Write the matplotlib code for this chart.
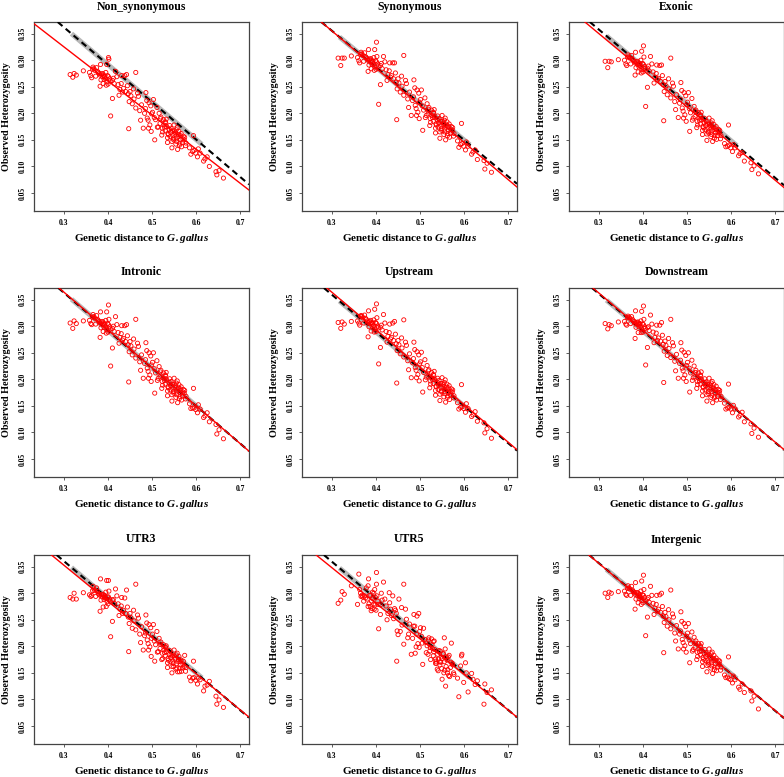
import matplotlib
matplotlib.use("Agg")
import matplotlib.pyplot as plt
import numpy as np

plt.rcParams['font.family'] = ['Liberation Serif', 'DejaVu Serif']
plt.rcParams['mathtext.fontset'] = 'custom'
plt.rcParams['mathtext.bfit'] = 'Liberation Serif:italic:bold'
plt.rcParams['mathtext.it'] = 'Liberation Serif:italic:bold'
plt.rcParams['mathtext.rm'] = 'Liberation Serif:bold'

titles = ["Non_synonymous", "Synonymous", "Exonic",
          "Intronic", "Upstream", "Downstream",
          "UTR3", "UTR5", "Intergenic"]

# genetic distance to G.gallus (shared by all panels)
dist = [0.314, 0.320, 0.323, 0.328, 0.344, 0.358, 0.361, 0.363, 0.366, 0.368,
        0.370, 0.374, 0.376, 0.380, 0.382, 0.382, 0.383, 0.385, 0.387, 0.389,
        0.390, 0.391, 0.393, 0.395, 0.395, 0.397, 0.398, 0.400, 0.401, 0.401,
        0.402, 0.404, 0.406, 0.410, 0.410, 0.414, 0.417, 0.420, 0.423, 0.427,
        0.430, 0.431, 0.435, 0.438, 0.440, 0.442, 0.444, 0.447, 0.448, 0.450,
        0.452, 0.458, 0.459, 0.463, 0.463, 0.467, 0.469, 0.474, 0.476, 0.480,
        0.483, 0.486, 0.488, 0.489, 0.492, 0.493, 0.495, 0.497, 0.498, 0.501,
        0.503, 0.506, 0.508, 0.511, 0.512, 0.516, 0.518, 0.520, 0.522, 0.523,
        0.526, 0.527, 0.530, 0.530, 0.531, 0.533, 0.535, 0.535, 0.536, 0.539,
        0.540, 0.541, 0.542, 0.545, 0.545, 0.546, 0.548, 0.550, 0.550, 0.552,
        0.554, 0.555, 0.555, 0.558, 0.559, 0.560, 0.561, 0.563, 0.565, 0.567,
        0.570, 0.571, 0.574, 0.577, 0.588, 0.592, 0.594, 0.595, 0.599, 0.603,
        0.609, 0.617, 0.620, 0.630, 0.645, 0.647, 0.652, 0.662,
        0.365, 0.372, 0.378, 0.384, 0.388, 0.392, 0.396, 0.399, 0.405, 0.412,
        0.425, 0.433, 0.446, 0.455, 0.472, 0.485, 0.491, 0.499, 0.505, 0.514,
        0.519, 0.524, 0.528, 0.532, 0.537, 0.543, 0.547, 0.549, 0.553, 0.556,
        0.557, 0.562, 0.564, 0.566, 0.569, 0.573, 0.576, 0.585, 0.605, 0.625]

het_non_synonymous = [
    0.273, 0.268, 0.275, 0.272, 0.280, 0.277, 0.271, 0.267, 0.287, 0.284,
    0.281, 0.286, 0.279, 0.275, 0.272, 0.251, 0.292, 0.274, 0.269, 0.256,
    0.272, 0.264, 0.270, 0.265, 0.277, 0.292, 0.259, 0.255, 0.305, 0.269,
    0.302, 0.265, 0.195, 0.228, 0.262, 0.256, 0.279, 0.269, 0.254, 0.245,
    0.256, 0.271, 0.247, 0.271, 0.241, 0.273, 0.252, 0.171, 0.222, 0.241,
    0.233, 0.246, 0.227, 0.277, 0.210, 0.238, 0.232, 0.187, 0.216, 0.172,
    0.200, 0.239, 0.224, 0.191, 0.172, 0.220, 0.178, 0.214, 0.166, 0.202,
    0.226, 0.150, 0.188, 0.211, 0.174, 0.200, 0.181, 0.193, 0.159, 0.172,
    0.188, 0.178, 0.167, 0.184, 0.182, 0.175, 0.145, 0.154, 0.162, 0.170,
    0.177, 0.156, 0.164, 0.135, 0.147, 0.167, 0.153, 0.178, 0.167, 0.161,
    0.142, 0.169, 0.152, 0.132, 0.156, 0.160, 0.166, 0.144, 0.150, 0.137,
    0.152, 0.157, 0.155, 0.144, 0.123, 0.128, 0.158, 0.130, 0.125, 0.118,
    0.125, 0.110, 0.114, 0.100, 0.090, 0.084, 0.092, 0.078,
    0.283, 0.270, 0.277, 0.263, 0.275, 0.268, 0.253, 0.271, 0.261, 0.266,
    0.234, 0.240, 0.237, 0.218, 0.205, 0.209, 0.187, 0.199, 0.192, 0.174,
    0.190, 0.165, 0.174, 0.189, 0.160, 0.172, 0.158, 0.150, 0.164, 0.147,
    0.173, 0.140, 0.158, 0.162, 0.145, 0.150, 0.139, 0.135, 0.133, 0.118]

het_synonymous = [
    0.304, 0.290, 0.304, 0.304, 0.308, 0.305, 0.299, 0.295, 0.315, 0.312,
    0.309, 0.314, 0.307, 0.303, 0.300, 0.279, 0.320, 0.302, 0.297, 0.284,
    0.300, 0.292, 0.298, 0.293, 0.305, 0.320, 0.287, 0.283, 0.334, 0.297,
    0.307, 0.293, 0.217, 0.254, 0.290, 0.284, 0.307, 0.297, 0.282, 0.273,
    0.280, 0.295, 0.271, 0.295, 0.265, 0.295, 0.276, 0.188, 0.246, 0.265,
    0.257, 0.270, 0.251, 0.309, 0.234, 0.262, 0.256, 0.211, 0.240, 0.196,
    0.224, 0.263, 0.248, 0.215, 0.196, 0.244, 0.202, 0.238, 0.190, 0.226,
    0.244, 0.168, 0.206, 0.229, 0.192, 0.218, 0.199, 0.211, 0.177, 0.190,
    0.206, 0.196, 0.185, 0.202, 0.200, 0.193, 0.163, 0.172, 0.180, 0.188,
    0.195, 0.174, 0.182, 0.153, 0.165, 0.185, 0.171, 0.196, 0.185, 0.179,
    0.160, 0.187, 0.170, 0.150, 0.174, 0.178, 0.184, 0.162, 0.168, 0.155,
    0.170, 0.175, 0.173, 0.162, 0.136, 0.141, 0.181, 0.143, 0.138, 0.131,
    0.138, 0.123, 0.127, 0.113, 0.111, 0.095, 0.106, 0.089,
    0.311, 0.298, 0.305, 0.291, 0.303, 0.296, 0.281, 0.299, 0.289, 0.294,
    0.262, 0.268, 0.259, 0.240, 0.227, 0.231, 0.209, 0.221, 0.214, 0.196,
    0.208, 0.183, 0.192, 0.207, 0.178, 0.190, 0.176, 0.168, 0.182, 0.165,
    0.191, 0.158, 0.176, 0.180, 0.163, 0.168, 0.157, 0.148, 0.146, 0.131]

het_exonic = [
    0.298, 0.286, 0.298, 0.297, 0.301, 0.300, 0.293, 0.290, 0.310, 0.306,
    0.304, 0.309, 0.302, 0.298, 0.295, 0.272, 0.315, 0.297, 0.292, 0.278,
    0.295, 0.287, 0.293, 0.288, 0.300, 0.317, 0.282, 0.278, 0.327, 0.292,
    0.306, 0.288, 0.213, 0.249, 0.285, 0.280, 0.307, 0.293, 0.278, 0.268,
    0.275, 0.291, 0.266, 0.290, 0.260, 0.291, 0.271, 0.186, 0.241, 0.260,
    0.252, 0.265, 0.246, 0.304, 0.229, 0.257, 0.251, 0.207, 0.235, 0.192,
    0.219, 0.258, 0.243, 0.210, 0.191, 0.239, 0.197, 0.233, 0.185, 0.221,
    0.239, 0.166, 0.201, 0.228, 0.187, 0.213, 0.194, 0.206, 0.173, 0.185,
    0.201, 0.191, 0.180, 0.197, 0.195, 0.188, 0.160, 0.168, 0.175, 0.183,
    0.190, 0.169, 0.177, 0.149, 0.161, 0.180, 0.166, 0.191, 0.180, 0.174,
    0.156, 0.182, 0.165, 0.147, 0.169, 0.173, 0.179, 0.158, 0.163, 0.151,
    0.165, 0.170, 0.168, 0.158, 0.137, 0.138, 0.178, 0.140, 0.135, 0.128,
    0.135, 0.120, 0.124, 0.110, 0.107, 0.094, 0.101, 0.086,
    0.306, 0.293, 0.300, 0.286, 0.298, 0.291, 0.276, 0.294, 0.284, 0.289,
    0.257, 0.263, 0.254, 0.235, 0.222, 0.226, 0.204, 0.216, 0.209, 0.191,
    0.203, 0.178, 0.187, 0.202, 0.173, 0.185, 0.171, 0.163, 0.177, 0.160,
    0.186, 0.153, 0.171, 0.175, 0.158, 0.163, 0.152, 0.143, 0.141, 0.126]

het_intronic = [
    0.306, 0.296, 0.310, 0.305, 0.310, 0.311, 0.305, 0.303, 0.322, 0.318,
    0.315, 0.320, 0.313, 0.309, 0.306, 0.279, 0.327, 0.308, 0.303, 0.290,
    0.306, 0.298, 0.304, 0.299, 0.311, 0.327, 0.293, 0.289, 0.340, 0.303,
    0.313, 0.299, 0.225, 0.259, 0.296, 0.290, 0.318, 0.303, 0.288, 0.279,
    0.286, 0.301, 0.277, 0.301, 0.271, 0.303, 0.282, 0.195, 0.252, 0.271,
    0.263, 0.276, 0.257, 0.313, 0.240, 0.268, 0.262, 0.217, 0.246, 0.202,
    0.230, 0.269, 0.254, 0.221, 0.202, 0.250, 0.208, 0.244, 0.196, 0.232,
    0.250, 0.174, 0.212, 0.235, 0.198, 0.224, 0.205, 0.217, 0.183, 0.196,
    0.212, 0.202, 0.191, 0.208, 0.206, 0.199, 0.169, 0.178, 0.186, 0.194,
    0.201, 0.180, 0.188, 0.159, 0.171, 0.191, 0.177, 0.202, 0.191, 0.185,
    0.166, 0.193, 0.176, 0.156, 0.180, 0.184, 0.190, 0.168, 0.174, 0.161,
    0.176, 0.181, 0.179, 0.168, 0.145, 0.146, 0.183, 0.146, 0.143, 0.137,
    0.144, 0.128, 0.131, 0.120, 0.115, 0.097, 0.105, 0.088,
    0.317, 0.304, 0.311, 0.297, 0.309, 0.302, 0.287, 0.305, 0.295, 0.300,
    0.268, 0.274, 0.265, 0.246, 0.233, 0.237, 0.215, 0.227, 0.220, 0.202,
    0.214, 0.189, 0.198, 0.213, 0.184, 0.196, 0.182, 0.174, 0.188, 0.171,
    0.197, 0.164, 0.182, 0.186, 0.169, 0.174, 0.163, 0.154, 0.152, 0.137]

het_upstream = [
    0.307, 0.296, 0.308, 0.304, 0.309, 0.310, 0.306, 0.302, 0.320, 0.319,
    0.316, 0.321, 0.315, 0.310, 0.307, 0.280, 0.329, 0.309, 0.305, 0.291,
    0.307, 0.300, 0.306, 0.301, 0.312, 0.332, 0.295, 0.290, 0.342, 0.305,
    0.316, 0.300, 0.229, 0.260, 0.298, 0.293, 0.322, 0.306, 0.290, 0.281,
    0.288, 0.304, 0.279, 0.306, 0.273, 0.309, 0.285, 0.193, 0.254, 0.273,
    0.265, 0.278, 0.259, 0.312, 0.242, 0.270, 0.264, 0.218, 0.248, 0.203,
    0.231, 0.270, 0.256, 0.222, 0.203, 0.252, 0.209, 0.246, 0.197, 0.233,
    0.251, 0.176, 0.213, 0.237, 0.199, 0.226, 0.206, 0.218, 0.184, 0.197,
    0.213, 0.203, 0.192, 0.209, 0.207, 0.200, 0.170, 0.179, 0.187, 0.195,
    0.202, 0.181, 0.189, 0.160, 0.172, 0.192, 0.178, 0.203, 0.192, 0.186,
    0.167, 0.194, 0.177, 0.157, 0.181, 0.185, 0.191, 0.169, 0.175, 0.162,
    0.177, 0.182, 0.180, 0.169, 0.144, 0.147, 0.190, 0.148, 0.145, 0.138,
    0.145, 0.130, 0.133, 0.121, 0.118, 0.099, 0.107, 0.089,
    0.319, 0.306, 0.313, 0.299, 0.311, 0.304, 0.289, 0.307, 0.297, 0.302,
    0.270, 0.276, 0.267, 0.248, 0.235, 0.239, 0.217, 0.229, 0.222, 0.204,
    0.216, 0.191, 0.200, 0.215, 0.186, 0.198, 0.184, 0.176, 0.190, 0.173,
    0.199, 0.166, 0.184, 0.188, 0.171, 0.176, 0.165, 0.156, 0.154, 0.139]

het_downstream = [
    0.305, 0.295, 0.303, 0.301, 0.308, 0.309, 0.304, 0.302, 0.319, 0.317,
    0.315, 0.318, 0.313, 0.309, 0.306, 0.277, 0.329, 0.307, 0.303, 0.288,
    0.306, 0.299, 0.305, 0.300, 0.310, 0.328, 0.293, 0.289, 0.338, 0.303,
    0.313, 0.299, 0.227, 0.260, 0.297, 0.292, 0.321, 0.304, 0.289, 0.279,
    0.287, 0.302, 0.278, 0.302, 0.272, 0.307, 0.283, 0.194, 0.253, 0.272,
    0.264, 0.277, 0.258, 0.313, 0.241, 0.269, 0.263, 0.216, 0.247, 0.202,
    0.230, 0.269, 0.255, 0.221, 0.202, 0.251, 0.208, 0.245, 0.196, 0.232,
    0.250, 0.176, 0.212, 0.236, 0.198, 0.225, 0.205, 0.217, 0.183, 0.196,
    0.212, 0.202, 0.191, 0.208, 0.206, 0.199, 0.169, 0.178, 0.186, 0.194,
    0.201, 0.180, 0.188, 0.159, 0.171, 0.191, 0.177, 0.202, 0.191, 0.185,
    0.166, 0.193, 0.176, 0.156, 0.180, 0.184, 0.190, 0.168, 0.174, 0.161,
    0.176, 0.181, 0.179, 0.168, 0.144, 0.146, 0.191, 0.147, 0.144, 0.137,
    0.144, 0.129, 0.132, 0.120, 0.116, 0.098, 0.108, 0.091,
    0.316, 0.305, 0.310, 0.298, 0.308, 0.303, 0.288, 0.304, 0.296, 0.299,
    0.269, 0.273, 0.266, 0.245, 0.234, 0.236, 0.216, 0.226, 0.221, 0.203,
    0.213, 0.190, 0.197, 0.214, 0.185, 0.195, 0.183, 0.173, 0.189, 0.170,
    0.196, 0.165, 0.181, 0.187, 0.168, 0.175, 0.162, 0.155, 0.151, 0.138]

het_utr3 = [
    0.292, 0.289, 0.300, 0.289, 0.301, 0.297, 0.294, 0.296, 0.313, 0.308,
    0.305, 0.310, 0.303, 0.298, 0.296, 0.266, 0.327, 0.298, 0.293, 0.274,
    0.297, 0.288, 0.295, 0.290, 0.302, 0.324, 0.284, 0.280, 0.324, 0.293,
    0.304, 0.289, 0.218, 0.247, 0.287, 0.281, 0.308, 0.295, 0.280, 0.270,
    0.276, 0.292, 0.268, 0.291, 0.262, 0.306, 0.274, 0.190, 0.243, 0.262,
    0.254, 0.268, 0.248, 0.317, 0.231, 0.259, 0.253, 0.207, 0.237, 0.193,
    0.220, 0.259, 0.244, 0.212, 0.193, 0.241, 0.199, 0.235, 0.181, 0.223,
    0.241, 0.172, 0.203, 0.228, 0.189, 0.215, 0.196, 0.208, 0.175, 0.187,
    0.203, 0.193, 0.182, 0.199, 0.197, 0.190, 0.160, 0.169, 0.177, 0.185,
    0.192, 0.171, 0.179, 0.150, 0.162, 0.182, 0.168, 0.193, 0.182, 0.176,
    0.157, 0.184, 0.167, 0.152, 0.171, 0.175, 0.181, 0.159, 0.165, 0.153,
    0.167, 0.172, 0.183, 0.160, 0.135, 0.140, 0.172, 0.141, 0.136, 0.129,
    0.137, 0.116, 0.125, 0.134, 0.106, 0.091, 0.099, 0.085,
    0.305, 0.294, 0.299, 0.287, 0.297, 0.292, 0.275, 0.293, 0.285, 0.288,
    0.258, 0.262, 0.255, 0.234, 0.223, 0.225, 0.205, 0.215, 0.210, 0.190,
    0.204, 0.177, 0.188, 0.201, 0.174, 0.184, 0.172, 0.162, 0.178, 0.159,
    0.187, 0.152, 0.172, 0.174, 0.159, 0.162, 0.153, 0.142, 0.140, 0.127]

het_utr5 = [
    0.281, 0.287, 0.303, 0.298, 0.314, 0.279, 0.336, 0.307, 0.294, 0.296,
    0.293, 0.295, 0.291, 0.289, 0.314, 0.275, 0.327, 0.296, 0.275, 0.267,
    0.285, 0.271, 0.290, 0.280, 0.300, 0.307, 0.278, 0.268, 0.339, 0.317,
    0.295, 0.285, 0.233, 0.260, 0.278, 0.287, 0.321, 0.289, 0.276, 0.262,
    0.301, 0.282, 0.258, 0.295, 0.252, 0.271, 0.268, 0.172, 0.229, 0.222,
    0.289, 0.273, 0.240, 0.317, 0.204, 0.270, 0.251, 0.223, 0.242, 0.185,
    0.215, 0.260, 0.238, 0.187, 0.223, 0.257, 0.205, 0.262, 0.198, 0.235,
    0.219, 0.166, 0.234, 0.213, 0.208, 0.201, 0.185, 0.216, 0.191, 0.198,
    0.214, 0.203, 0.182, 0.209, 0.190, 0.194, 0.168, 0.176, 0.172, 0.157,
    0.185, 0.154, 0.176, 0.165, 0.171, 0.191, 0.180, 0.138, 0.177, 0.186,
    0.150, 0.216, 0.171, 0.125, 0.162, 0.180, 0.174, 0.156, 0.145, 0.143,
    0.170, 0.206, 0.165, 0.147, 0.105, 0.163, 0.182, 0.185, 0.132, 0.169,
    0.114, 0.149, 0.138, 0.135, 0.091, 0.129, 0.113, 0.118,
    0.300, 0.285, 0.310, 0.280, 0.296, 0.302, 0.270, 0.292, 0.279, 0.300,
    0.250, 0.270, 0.262, 0.228, 0.216, 0.238, 0.199, 0.228, 0.206, 0.188,
    0.212, 0.175, 0.196, 0.210, 0.168, 0.192, 0.170, 0.158, 0.186, 0.155,
    0.195, 0.150, 0.180, 0.183, 0.160, 0.168, 0.150, 0.140, 0.150, 0.128]

het_intergenic = [
    0.300, 0.292, 0.302, 0.300, 0.303, 0.304, 0.298, 0.296, 0.314, 0.310,
    0.308, 0.313, 0.306, 0.302, 0.298, 0.270, 0.320, 0.301, 0.296, 0.282,
    0.299, 0.290, 0.297, 0.292, 0.304, 0.323, 0.286, 0.282, 0.334, 0.296,
    0.307, 0.292, 0.220, 0.255, 0.289, 0.283, 0.313, 0.296, 0.281, 0.272,
    0.279, 0.296, 0.270, 0.297, 0.264, 0.300, 0.275, 0.188, 0.245, 0.264,
    0.256, 0.269, 0.250, 0.306, 0.233, 0.261, 0.255, 0.210, 0.239, 0.195,
    0.223, 0.265, 0.247, 0.213, 0.195, 0.243, 0.201, 0.237, 0.189, 0.225,
    0.243, 0.169, 0.205, 0.227, 0.191, 0.217, 0.198, 0.210, 0.175, 0.189,
    0.205, 0.195, 0.184, 0.201, 0.199, 0.192, 0.162, 0.171, 0.179, 0.187,
    0.194, 0.173, 0.181, 0.152, 0.164, 0.184, 0.170, 0.195, 0.184, 0.178,
    0.159, 0.186, 0.169, 0.149, 0.173, 0.177, 0.183, 0.161, 0.167, 0.154,
    0.169, 0.174, 0.172, 0.161, 0.141, 0.142, 0.180, 0.139, 0.137, 0.131,
    0.137, 0.123, 0.119, 0.113, 0.116, 0.097, 0.106, 0.082,
    0.309, 0.296, 0.303, 0.289, 0.301, 0.294, 0.279, 0.297, 0.287, 0.292,
    0.260, 0.266, 0.257, 0.238, 0.225, 0.229, 0.207, 0.219, 0.212, 0.194,
    0.206, 0.181, 0.190, 0.205, 0.176, 0.188, 0.174, 0.166, 0.180, 0.163,
    0.189, 0.156, 0.174, 0.178, 0.161, 0.166, 0.155, 0.146, 0.144, 0.129]

het_values = [het_non_synonymous, het_synonymous, het_exonic,
              het_intronic, het_upstream, het_downstream,
              het_utr3, het_utr5, het_intergenic]

# red regression line (intercept, slope) per panel
red_fit = [(0.5177, -0.642), (0.5651, -0.700), (0.557, -0.690),
           (0.578, -0.713), (0.5757, -0.706), (0.573, -0.702),
           (0.557, -0.681), (0.549, -0.670), (0.564, -0.693)]
# black dashed reference line (intercept, slope) per panel
ref_fit = [(0.5734, -0.7046), (0.5612, -0.686), (0.567, -0.698),
           (0.576, -0.710), (0.569, -0.699), (0.571, -0.700),
           (0.571, -0.702), (0.5687, -0.698), (0.565, -0.695)]
band_range = (0.317, 0.613)

xticks = [0.3, 0.4, 0.5, 0.6, 0.7]
yticks = [0.05, 0.10, 0.15, 0.20, 0.25, 0.30, 0.35]

W, H = 784, 777
fig = plt.figure(figsize=(W / 100, H / 100), dpi=100)
lefts = [34, 302, 569]
tops = [22, 288, 555]
aw, ah = 215, 189

for i, title in enumerate(titles):
    r, c = divmod(i, 3)
    ax = fig.add_axes([lefts[c] / W, 1 - (tops[r] + ah) / H, aw / W, ah / H])
    ax.set_xlim(0.232, 0.720)
    ax.set_ylim(0.016, 0.372)

    a, b = ref_fit[i]
    bx = np.array(band_range)
    ax.plot(bx, a + b * bx, color='#b8b8b8', lw=3.6, solid_capstyle='butt', zorder=2)
    ax.axline((0, a), slope=b, color='black', lw=1.5, ls=(0, (3, 2)), zorder=3)
    ra, rb = red_fit[i]
    ax.axline((0, ra), slope=rb, color='red', lw=1.0, zorder=4)

    ax.scatter(dist, het_values[i], s=9, facecolors='none', edgecolors='red',
               linewidths=0.6, zorder=5)

    ax.set_xticks(xticks)
    ax.set_xticklabels([f"{v:.1f}" for v in xticks], fontsize=5.5, fontweight='bold')
    ax.set_yticks(yticks)
    ax.set_yticklabels([f"{v:.2f}" for v in yticks], fontsize=5.5, fontweight='bold',
                       rotation=90, va='center')
    ax.tick_params(length=2.5, width=0.6, pad=3, color='#444444')
    for s in ax.spines.values():
        s.set_linewidth(0.9)
        s.set_color('#444444')

    ax.set_title(title, fontsize=8.5, fontweight='bold', pad=9)
    ax.set_xlabel(r'Genetic distance to $\mathbfit{G.gallus}$', fontsize=8,
                  fontweight='bold', labelpad=4)
    ax.set_ylabel('Observed Heterozygosity', fontsize=7.3, fontweight='bold', labelpad=5)

fig.savefig('out.png', dpi=100)
